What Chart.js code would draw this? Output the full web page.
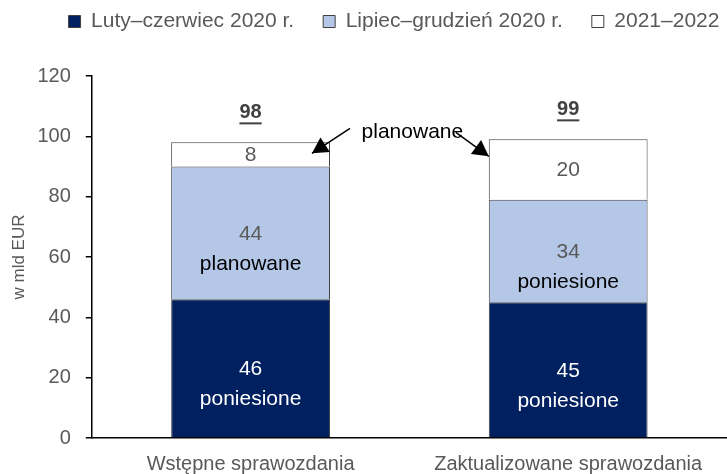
<!DOCTYPE html>
<html>
<head>
<meta charset="utf-8">
<script src="https://cdn.jsdelivr.net/npm/chart.js@4"></script>
<style>
  html, body { margin: 0; padding: 0; background: #fff; }
  #wrap { width: 727px; height: 474px; }
</style>
</head>
<body>
<div id="wrap"><canvas id="costChart"></canvas></div>
<script>
const categories = ['Wstępne sprawozdania', 'Zaktualizowane sprawozdania'];
const seriesNames = ['Luty–czerwiec 2020 r.', 'Lipiec–grudzień 2020 r.', '2021–2022'];
const febJun2020 = [46, 45];
const julDec2020 = [44, 34];
const years2122 = [8, 20];
const totals = [98, 99];
const segmentNotes = [
    ['poniesione', 'poniesione'],
    ['planowane', 'poniesione'],
    ['', '']
];
const calloutText = 'planowane';
const yTicks = [0, 20, 40, 60, 80, 100, 120];

const fontFamily = '"Liberation Sans", Arial, sans-serif';
const legendGap = 34;   // extra room under the legend
const legendShift = 26; // move legend row to the right

// values inside segments, totals above bars, arrow callout
const labelPlugin = {
    id: 'labelPlugin',
    beforeInit(chart) {
        const origFit = chart.legend.fit;
        chart.legend.fit = function() {
            origFit.bind(chart.legend)();
            this.height += legendGap;
        };
    },
    afterLayout(chart) {
        chart.legend.left += legendShift;
        chart.legend.right += legendShift;
    },
    afterDatasetsDraw(chart) {
        const ctx = chart.ctx;
        ctx.save();
        ctx.textAlign = 'center';
        ctx.textBaseline = 'middle';
        chart.data.datasets.forEach((ds, di) => {
            const meta = chart.getDatasetMeta(di);
            meta.data.forEach((bar, i) => {
                const mid = (bar.y + bar.base) / 2;
                ctx.font = '21px ' + fontFamily;
                ctx.fillStyle = di === 0 ? '#ffffff' : '#595959';
                ctx.fillText(String(ds.data[i]), bar.x, mid + 1);
                const note = segmentNotes[di][i];
                if (note) {
                    ctx.fillStyle = di === 0 ? '#ffffff' : '#000000';
                    ctx.fillText(note, bar.x, mid + 31);
                }
            });
        });

        // totals, bold and underlined
        const topMeta = chart.getDatasetMeta(chart.data.datasets.length - 1);
        topMeta.data.forEach((bar, i) => {
            const txt = String(totals[i]);
            ctx.font = 'bold 20px ' + fontFamily;
            ctx.fillStyle = '#404040';
            const y = bar.y - 30;
            ctx.fillText(txt, bar.x, y);
            const w = ctx.measureText(txt).width;
            ctx.fillRect(bar.x - w / 2, y + 10, w, 2);
        });

        // callout "planowane" with two arrows
        const b1 = topMeta.data[0];
        const b2 = topMeta.data[1];
        const r1 = b1.x + b1.width / 2;
        const l2 = b2.x - b2.width / 2;
        const tx = (r1 + l2) / 2 + 3;
        const ty = b2.y - 7;
        ctx.font = '21px ' + fontFamily;
        ctx.fillStyle = '#000000';
        ctx.fillText(calloutText, tx, ty);

        function arrow(x0, y0, x1, y1) {
            ctx.strokeStyle = '#000';
            ctx.lineWidth = 1.5;
            ctx.beginPath();
            ctx.moveTo(x0, y0);
            ctx.lineTo(x1, y1);
            ctx.stroke();
            const ang = Math.atan2(y1 - y0, x1 - x0);
            const len = 18, half = 0.5;
            ctx.beginPath();
            ctx.moveTo(x1, y1);
            ctx.lineTo(x1 - len * Math.cos(ang - half), y1 - len * Math.sin(ang - half));
            ctx.lineTo(x1 - len * Math.cos(ang + half), y1 - len * Math.sin(ang + half));
            ctx.closePath();
            ctx.fillStyle = '#000';
            ctx.fill();
        }
        arrow(r1 + 20, b1.y - 14, r1 - 18, b1.y + 11);
        arrow(l2 - 33, b2.y - 7, l2, b2.y + 17);
        ctx.restore();
    }
};

const ctx = document.getElementById('costChart').getContext('2d');
const costChart = new Chart(ctx, {
    type: 'bar',
    data: {
        labels: categories,
        datasets: [{
            label: seriesNames[0],
            data: febJun2020,
            backgroundColor: '#002060',
            borderColor: '#404040',
            borderWidth: 1
        }, {
            label: seriesNames[1],
            data: julDec2020,
            backgroundColor: '#b4c7e7',
            borderColor: '#404040',
            borderWidth: 1
        }, {
            label: seriesNames[2],
            data: years2122,
            backgroundColor: '#ffffff',
            borderColor: '#404040',
            borderWidth: 1
        }]
    },
    options: {
        responsive: true,
        maintainAspectRatio: false,
        animation: false,
        layout: {
            padding: { left: 9, right: 0, top: -18, bottom: -8 }
        },
        datasets: {
            bar: {
                barPercentage: 0.5,
                categoryPercentage: 1.0
            }
        },
        scales: {
            x: {
                stacked: true,
                grid: { display: false },
                border: { display: true, color: '#000', width: 1.5 },
                ticks: {
                    color: '#595959',
                    font: { family: fontFamily, size: 20, lineHeight: 1.2 },
                    padding: 6
                }
            },
            y: {
                stacked: true,
                min: 0,
                max: 120,
                afterBuildTicks(scale) {
                    scale.ticks = yTicks.map(v => ({ value: v }));
                },
                grid: {
                    display: true,
                    drawOnChartArea: false,
                    drawTicks: true,
                    tickLength: 6,
                    color: '#000',
                    lineWidth: 1.5
                },
                border: { display: true, color: '#000', width: 1.5 },
                ticks: {
                    color: '#595959',
                    font: { family: fontFamily, size: 20 },
                    padding: 15
                },
                title: {
                    display: true,
                    text: 'w mld EUR',
                    color: '#595959',
                    font: { family: fontFamily, size: 17 },
                    padding: { top: 0, bottom: -7 }
                }
            }
        },
        plugins: {
            legend: {
                display: true,
                position: 'top',
                labels: {
                    color: '#595959',
                    font: { family: fontFamily, size: 21 },
                    boxWidth: 12,
                    boxHeight: 12,
                    padding: 29
                }
            },
            tooltip: { enabled: false }
        }
    },
    plugins: [labelPlugin]
});
</script>
</body>
</html>
